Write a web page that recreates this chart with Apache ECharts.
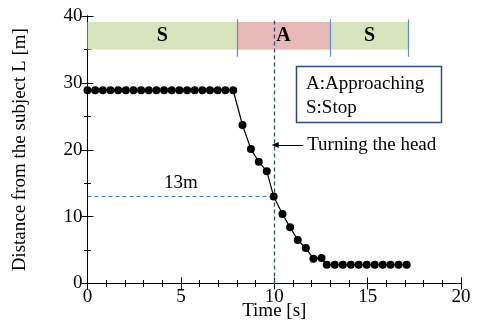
<!DOCTYPE html>
<html><head><meta charset="utf-8">
<script src="https://cdn.jsdelivr.net/npm/echarts@6/dist/echarts.min.js"></script>
<style>html,body{margin:0;padding:0;background:#fff}#c{width:481px;height:325px}</style>
</head><body><div id="c"></div>
<script>
// Time [s] of each sample
const times = [0,0.41,0.82,1.23,1.64,2.05,2.46,2.87,3.28,3.69,4.10,4.51,4.92,5.33,5.74,6.15,6.56,6.97,7.38,7.80,
  8.30,8.75,9.17,9.60,9.97,10.44,10.85,11.26,11.69,12.10,12.53,
  12.81,13.24,13.67,14.10,14.52,14.95,15.38,15.81,16.23,16.66,17.09];
// Distance from the subject L [m]
const distances = [28.9,28.9,28.9,28.9,28.9,28.9,28.9,28.9,28.9,28.9,28.9,28.9,28.9,28.9,28.9,28.9,28.9,28.9,28.9,28.9,
  23.7,20.1,18.2,16.8,13.0,10.4,8.4,6.5,5.3,3.7,3.8,
  2.8,2.8,2.8,2.8,2.8,2.8,2.8,2.8,2.8,2.8,2.8];
// Phases
const phaseLabels = ['S','A','S'];
const phaseStart = [0,8,13];
const phaseEnd = [8,13,17.2];
const phaseColors = ['#d7e4bd','#e6b9b8','#d7e4bd'];
const xTicks = [0,5,10,15,20];
const yTicks = [0,10,20,30,40];
const turnTime = 10;
const turnDist = 13;

const serif = '"Liberation Serif","Times New Roman",serif';
const chart = echarts.init(document.getElementById('c'));
const data = times.map((t,i)=>[t,distances[i]]);

const areaData = phaseLabels.map((lab,i)=>[
  {name:lab, xAxis:phaseStart[i], yAxis:35, itemStyle:{color:phaseColors[i]}},
  {xAxis:phaseEnd[i], yAxis:39.1}
]);
const sepLines = phaseEnd.map(x=>[{coord:[x,33.9]},{coord:[x,39.5]}]);

const tickCommon = {inside:true,length:6,lineStyle:{color:'#000',width:1}};
const minorCommon = {show:true,length:3.5,lineStyle:{color:'#000',width:1}};

chart.setOption({
  animation:false,
  grid:{left:87.5,right:20,top:16,bottom:41.5,outerBoundsMode:'none',containLabel:false},
  xAxis:[{
    type:'value',min:xTicks[0],max:xTicks[xTicks.length-1],interval:5,
    axisLine:{lineStyle:{color:'#000',width:1}},
    axisTick:tickCommon,minorTick:Object.assign({splitNumber:5},minorCommon),
    splitLine:{show:false},
    axisLabel:{color:'#000',fontFamily:serif,fontSize:19,margin:4},
    name:'Time [s]',nameLocation:'middle',nameGap:28,nameMoveOverlap:false,
    nameTextStyle:{color:'#000',fontFamily:serif,fontSize:19,verticalAlign:'middle'}
  },{
    type:'value',position:'top',min:0,max:20,interval:5,
    axisLine:{show:true,lineStyle:{color:'#000',width:1}},
    axisTick:tickCommon,minorTick:Object.assign({splitNumber:5},minorCommon),
    splitLine:{show:false},axisLabel:{show:false}
  }],
  yAxis:[{
    type:'value',min:yTicks[0],max:yTicks[yTicks.length-1],interval:10,
    axisLine:{show:true,lineStyle:{color:'#000',width:1}},
    axisTick:tickCommon,minorTick:Object.assign({splitNumber:2},minorCommon),
    splitLine:{show:false},
    axisLabel:{color:'#000',fontFamily:serif,fontSize:19,margin:5},
    name:'Distance from the subject L [m]',nameLocation:'middle',nameGap:67,nameMoveOverlap:false,
    nameTextStyle:{color:'#000',fontFamily:serif,fontSize:19,verticalAlign:'middle'}
  },{
    type:'value',position:'right',min:0,max:40,interval:10,
    axisLine:{show:true,lineStyle:{color:'#000',width:1}},
    axisTick:tickCommon,minorTick:Object.assign({splitNumber:2},minorCommon),
    splitLine:{show:false},axisLabel:{show:false}
  }],
  series:[{
    type:'line',data:data,symbol:'circle',symbolSize:8,
    lineStyle:{color:'#000',width:1.2},itemStyle:{color:'#000'},z:5,
    markArea:{silent:true,
      label:{show:true,position:'inside',color:'#000',fontFamily:serif,fontSize:20,fontWeight:'bold'},
      data:areaData},
    markLine:{silent:true,symbol:'none',label:{show:false},
      lineStyle:{color:'#5b8fd0',width:1.2,type:'solid'},
      data:sepLines.concat([
        [{coord:[turnTime,0],lineStyle:{color:'#2c4a85',type:[4,3],width:1.3}},{coord:[turnTime,39.3]}],
        [{coord:[0,turnDist],lineStyle:{color:'#3f74ba',type:[4,3],width:1.2}},{coord:[turnTime,turnDist]}],
        [{coord:[11.55,20.7],symbol:'none',lineStyle:{color:'#000',type:'solid',width:1}},{coord:[10.05,20.7],symbol:'triangle',symbolSize:[6,7],symbolRotate:90}]
      ])}
  }]
});

const p13 = chart.convertToPixel({gridIndex:0},[5,turnDist]);
const pTurn = chart.convertToPixel({gridIndex:0},[11.6,20.7]);
chart.setOption({
  graphic:[
    {type:'rect',shape:{x:296.5,y:66.5,width:145,height:56},style:{fill:'#fff',stroke:'#2f4b7c',lineWidth:1.5},z:10},
    {type:'text',x:306,y:84,style:{text:'A:Approaching',font:'19px '+serif,fill:'#000',align:'left',verticalAlign:'middle'},z:11},
    {type:'text',x:306,y:108,style:{text:'S:Stop',font:'19px '+serif,fill:'#000',align:'left',verticalAlign:'middle'},z:11},
    {type:'text',x:p13[0],y:p13[1]-14,style:{text:'13m',font:'19px '+serif,fill:'#000',align:'center',verticalAlign:'middle'},z:11},
    {type:'text',x:pTurn[0]+3,y:pTurn[1],style:{text:'Turning the head',font:'19px '+serif,fill:'#000',align:'left',verticalAlign:'middle'},z:11}
  ]
});
</script></body></html>
